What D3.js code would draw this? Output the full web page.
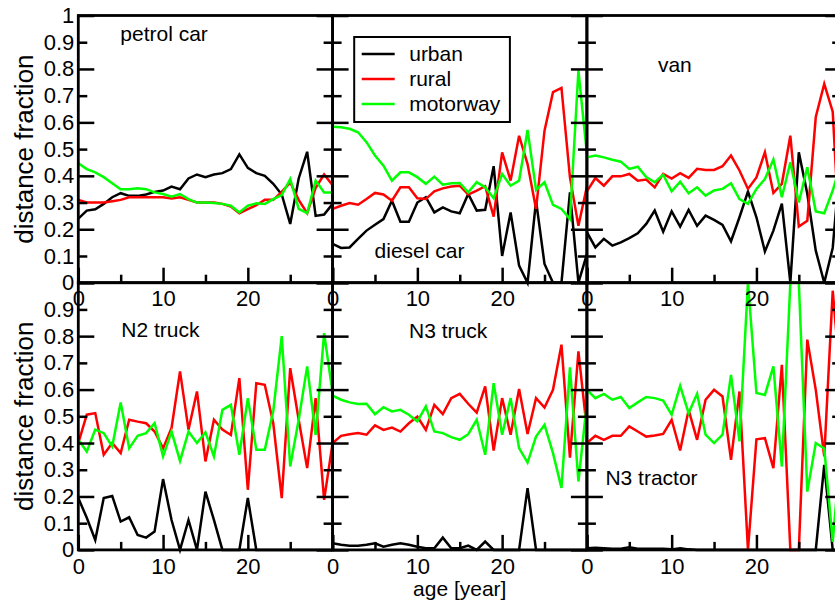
<!DOCTYPE html>
<html>
<head>
<meta charset="utf-8">
<script src="https://cdn.jsdelivr.net/npm/d3@7/dist/d3.min.js"></script>
<style>
  body { margin: 0; background: #fff; }
  svg { display: block; background: #fff; font-family: "Liberation Sans", Arial, sans-serif; }
</style>
</head>
<body>
<svg></svg>
<script>
// ages on the x axis (years)
let ages = [0,1,2,3,4,5,6,7,8,9,10,11,12,13,14,15,16,17,18,19,20,21,22,23,24,25,26,27,28,29,30];

// distance fraction per vehicle class and road type
let petrolUrban    = [0.24,0.27,0.275,0.295,0.32,0.335,0.325,0.325,0.33,0.34,0.345,0.36,0.35,0.39,0.405,0.395,0.405,0.41,0.425,0.48,0.43,0.41,0.40,0.37,0.33,0.22,0.39,0.49,0.25,0.255,0.295];
let petrolRural    = [0.31,0.30,0.30,0.30,0.305,0.31,0.32,0.32,0.32,0.32,0.32,0.315,0.32,0.31,0.30,0.30,0.30,0.295,0.285,0.26,0.275,0.29,0.31,0.31,0.34,0.375,0.31,0.26,0.355,0.405,0.365];
let petrolMotorway = [0.447,0.425,0.413,0.395,0.372,0.35,0.35,0.353,0.35,0.338,0.332,0.322,0.332,0.313,0.30,0.30,0.298,0.295,0.288,0.263,0.288,0.297,0.295,0.313,0.328,0.388,0.276,0.26,0.382,0.338,0.338];

let dieselUrban    = [0.145,0.13,0.132,0.164,0.195,0.217,0.238,0.307,0.228,0.228,0.30,0.32,0.263,0.282,0.267,0.26,0.332,0.27,0.273,0.436,0.10,0.263,0.064,0,0.307,0.07,0,0,0.338,0,0.107];
let dieselRural    = [0.276,0.288,0.298,0.292,0.313,0.336,0.33,0.307,0.357,0.357,0.316,0.313,0.342,0.353,0.36,0.363,0.33,0.345,0.361,0.247,0.488,0.382,0.55,0.444,0.276,0.569,0.713,0.729,0.394,0.213,0.36];
let dieselMotorway = [0.584,0.582,0.576,0.563,0.526,0.476,0.438,0.382,0.413,0.413,0.395,0.37,0.397,0.367,0.372,0.373,0.338,0.376,0.357,0.316,0.407,0.363,0.382,0.572,0.347,0.376,0.291,0.276,0.238,0.794,0.482];

let vanUrban    = [0.189,0.132,0.164,0.139,0.151,0.167,0.185,0.22,0.27,0.191,0.267,0.21,0.272,0.213,0.251,0.235,0.216,0.155,0.245,0.341,0.245,0.117,0.195,0.296,0,0.488,0.333,0.12,0,0.13,0.5];
let vanRural    = [0.342,0.392,0.363,0.398,0.398,0.407,0.382,0.386,0.357,0.407,0.39,0.41,0.392,0.426,0.422,0.422,0.436,0.476,0.42,0.351,0.394,0.488,0.336,0.37,0.55,0.21,0.232,0.62,0.744,0.64,0.05];
let vanMotorway = [0.469,0.476,0.469,0.46,0.453,0.426,0.434,0.395,0.376,0.404,0.342,0.378,0.335,0.357,0.326,0.345,0.351,0.372,0.313,0.295,0.351,0.388,0.461,0.32,0.451,0.30,0.432,0.267,0.26,0.345,0.45];

let n2Urban    = [0.194,0.12,0.037,0.194,0.202,0.106,0.122,0.056,0.046,0.069,0.265,0.112,0,0.112,0,0.218,0.112,0,0,0,0.194,0,0,0,0,0,0,0,0,0,0];
let n2Rural    = [0.40,0.506,0.512,0.356,0.40,0.362,0.487,0.48,0.474,0.443,0.38,0.456,0.668,0.45,0.593,0.331,0.487,0.45,0.43,0.643,0.225,0.624,0.618,0.474,0.194,0.68,0.487,0.306,0.568,0.187,0.40];
let n2Motorway = [0.412,0.368,0.45,0.437,0.387,0.552,0.38,0.427,0.437,0.474,0.35,0.443,0.333,0.443,0.40,0.44,0.35,0.524,0.543,0.356,0.568,0.375,0.375,0.52,0.80,0.312,0.487,0.687,0.43,0.811,0.587];

let n3Urban    = [0.025,0.019,0.016,0.016,0.019,0.025,0.012,0.019,0.025,0.019,0.012,0.006,0.006,0.046,0.006,0.006,0.016,0,0.031,0,0,0,0,0.231,0,0,0,0,0,0,0];
let n3Rural    = [0.40,0.427,0.433,0.437,0.431,0.466,0.449,0.458,0.443,0.474,0.499,0.449,0.543,0.508,0.568,0.584,0.547,0.514,0.612,0.372,0.568,0.431,0.602,0.434,0.568,0.533,0.599,0.768,0.345,0.743,0.45];
let n3Motorway = [0.577,0.562,0.552,0.546,0.547,0.508,0.534,0.518,0.524,0.506,0.481,0.537,0.443,0.437,0.422,0.412,0.433,0.487,0.356,0.624,0.431,0.568,0.381,0.327,0.424,0.468,0.362,0.232,0.683,0.256,0.55];

let tractorUrban    = [0.006,0.008,0.006,0.004,0.004,0.01,0.004,0.004,0.004,0.004,0.002,0.006,0.002,0,0,0,0,0,0,0,0,0,0,0,0,0,0,0,0.318,0,0];
let tractorRural    = [0.40,0.427,0.412,0.427,0.427,0.462,0.443,0.424,0.428,0.434,0.487,0.372,0.524,0.412,0.562,0.599,0.574,0.337,0.593,0,0.414,0.418,0.306,0.693,0,0,0.787,0.599,0.35,0.97,0.6];
let tractorMotorway = [0.599,0.568,0.584,0.562,0.572,0.531,0.552,0.572,0.568,0.559,0.506,0.614,0.512,0.584,0.431,0.40,0.431,0.655,0.406,1.0,0.587,0.58,0.687,0.312,1.0,1.0,0.218,0.40,0.38,0.03,0.4];

let panelNames = ['petrol car','diesel car','van','N2 truck','N3 truck','N3 tractor'];
let seriesNames = ['urban','rural','motorway'];
let seriesColors = ['#000000','#ff0000','#00ff00'];

let yLabelTicks = [0,0.1,0.2,0.3,0.4,0.5,0.6,0.7,0.8,0.9,1];
let yMajorTicks = [0,0.2,0.4,0.6,0.8,1];
let yMinorTicks = [0.1,0.3,0.5,0.7,0.9];
let xLabelTicks = [0,10,20];
let xMajorTicks = [0,10,20,30];
let xMinorTicks = [5,15,25];

let panelSeries = [
  [petrolUrban, petrolRural, petrolMotorway],
  [dieselUrban, dieselRural, dieselMotorway],
  [vanUrban, vanRural, vanMotorway],
  [n2Urban, n2Rural, n2Motorway],
  [n3Urban, n3Rural, n3Motorway],
  [tractorUrban, tractorRural, tractorMotorway]
];

// layout (pixels)
let margin = {left: 78.3, top: 15.5};
let panelW = 254.3;
let panelH = 267.2;
let labelPos = [[42,25],[42,242.5],[71,56],[43,54],[76.5,55.5],[18.5,202]];

let svg = d3.select('svg')
  .attr('width', 835)
  .attr('height', 605);

let xScale = d3.scaleLinear().domain([0,30]).range([0,panelW]);
let yScale = d3.scaleLinear().domain([0,1]).range([panelH,0]);

let valueline = d3.line()
  .x((d,i)=> xScale(ages[i]))
  .y((d)=> yScale(d));

panelNames.forEach((name, p)=>{
  let col = p % 3, row = Math.floor(p / 3);
  let g = svg.append('g')
    .attr('transform', `translate(${margin.left + col*panelW},${margin.top + row*panelH})`);

  svg.append('clipPath').attr('id', 'clip' + p)
    .append('rect')
    .attr('x', 0).attr('y', -40)
    .attr('width', panelW).attr('height', panelH + 80);

  // data lines: urban, rural, then motorway on top
  let lines = g.append('g').attr('clip-path', `url(#clip${p})`);
  panelSeries[p].forEach((vals, s)=>{
    lines.append('path')
      .attr('d', valueline(vals))
      .attr('fill', 'none')
      .attr('stroke', seriesColors[s])
      .attr('stroke-width', 2.5)
      .attr('stroke-linejoin', 'miter');
  });

  // tick marks, pointing inwards
  let tickStyle = (sel)=>{
    sel.select('.domain').remove();
    sel.selectAll('line').attr('stroke', '#000').attr('stroke-width', 2.5);
    sel.selectAll('text').remove();
  };
  g.append('g').attr('transform', `translate(0,${panelH})`)
    .call(d3.axisBottom(xScale).tickValues(xMajorTicks).tickSize(-15)).call(tickStyle);
  g.append('g').attr('transform', `translate(0,${panelH})`)
    .call(d3.axisBottom(xScale).tickValues(xMinorTicks).tickSize(-8)).call(tickStyle);
  g.append('g')
    .call(d3.axisLeft(yScale).tickValues(yMajorTicks).tickSize(-16)).call(tickStyle);
  g.append('g')
    .call(d3.axisLeft(yScale).tickValues(yMinorTicks).tickSize(-9)).call(tickStyle);
  g.append('g').attr('transform', `translate(${panelW},0)`)
    .call(d3.axisRight(yScale).tickValues(yMajorTicks).tickSize(-16)).call(tickStyle);
  g.append('g').attr('transform', `translate(${panelW},0)`)
    .call(d3.axisRight(yScale).tickValues(yMinorTicks).tickSize(-9)).call(tickStyle);

  // frame
  g.append('rect')
    .attr('width', panelW).attr('height', panelH)
    .attr('fill', 'none').attr('stroke', '#000').attr('stroke-width', 2.8);

  // panel name
  g.append('text')
    .attr('x', labelPos[p][0]).attr('y', labelPos[p][1])
    .attr('font-size', 21).attr('fill', '#000')
    .text(name);
});

// tick labels, drawn last so they sit over the frames
let labelStyle = (sel)=>{
  sel.select('.domain').remove();
  sel.selectAll('text').attr('font-size', 22).attr('fill', '#000')
    .attr('font-family', '"Liberation Sans", Arial, sans-serif');
};
[0,1].forEach((row)=>{
  let top = margin.top + row*panelH;
  [0,1,2].forEach((col)=>{
    svg.append('g')
      .attr('transform', `translate(${margin.left + col*panelW},${top + panelH})`)
      .call(d3.axisBottom(xScale).tickValues(xLabelTicks).tickSize(0).tickPadding(8))
      .call(labelStyle);
  });
  svg.append('g')
    .attr('transform', `translate(${margin.left},${top})`)
    .call(d3.axisLeft(yScale)
      .tickValues(row === 0 ? yLabelTicks : yLabelTicks.slice(0,10))
      .tickSize(0).tickPadding(4)
      .tickFormat(d3.format('~g')))
    .call(labelStyle);

  svg.append('text')
    .attr('transform', `translate(33,${top + panelH/2}) rotate(-90)`)
    .attr('text-anchor', 'middle')
    .attr('font-size', 26)
    .text('distance fraction');
});

svg.append('text')
  .attr('x', margin.left + panelW*1.5)
  .attr('y', 596)
  .attr('text-anchor', 'middle')
  .attr('font-size', 21)
  .text('age [year]');

// legend inside the diesel car panel
let legend = svg.append('g')
  .attr('transform', `translate(${margin.left + panelW + 21.6},${margin.top + 21.5})`);
legend.append('rect')
  .attr('width', 155.7).attr('height', 85)
  .attr('fill', '#fff').attr('stroke', '#000').attr('stroke-width', 2);
seriesNames.forEach((s, i)=>{
  let y = 17 + i*25;
  legend.append('line')
    .attr('x1', 7.5).attr('x2', 40.5)
    .attr('y1', y).attr('y2', y)
    .attr('stroke', seriesColors[i]).attr('stroke-width', 2.5);
  legend.append('text')
    .attr('x', 55).attr('y', y).attr('dy', '0.35em')
    .attr('font-size', 21)
    .text(s);
});
</script>
</body>
</html>
